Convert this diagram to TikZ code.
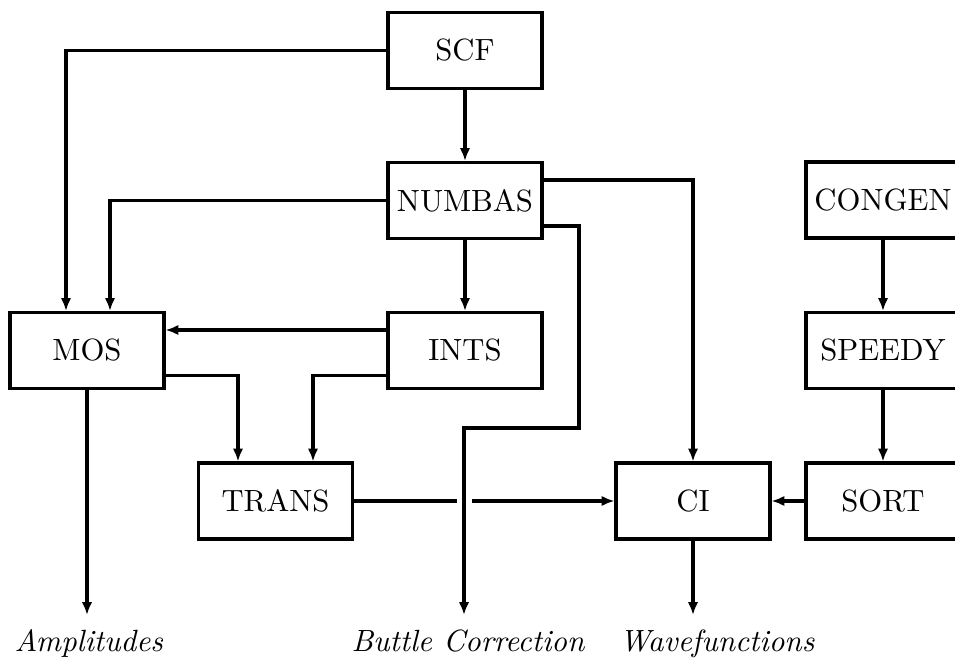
\documentclass[tikz,border=0pt]{standalone}
\usetikzlibrary{arrows.meta}
\def\pxu{0.3257pt}
\begin{document}
\begin{tikzpicture}[x=\pxu,y=-\pxu,
  box/.style={draw,line width=1pt,minimum width=154*\pxu,minimum height=76*\pxu,inner sep=0pt},
  wire/.style={line width=1pt},
  arr/.style={wire,-{Latex[length=4.2pt,width=3.4pt]}},
  lab/.style={font=\itshape,anchor=base west,inner sep=0pt}]
\useasboundingbox (0,0) rectangle (955,661);

\node[box] (SCF)    at (465,50.5)  {SCF};
\node[box] (NUMBAS) at (465,200.5) {NUMBAS};
\node[box] (INTS)   at (465,350.5) {INTS};
\node[box] (MOS)    at (87,350.5)  {MOS};
\node[box] (TRANS)  at (275.5,501) {TRANS};
\node[box] (CI)     at (693,501)   {CI};
\node[box] (CONGEN) at (883,200)   {CONGEN};
\node[box] (SPEEDY) at (883,350.5) {SPEEDY};
\node[box] (SORT)   at (883,501)   {SORT};

\coordinate (bA) at (579,428);
\coordinate (bEnd) at (464,615);
\coordinate (ampEnd) at (87,615);
\coordinate (wfEnd) at (693,615);
\coordinate (gapL) at (457,501);
\coordinate (gapR) at (472,501);

\draw[arr] (SCF.west) -| ([xshift=-21*\pxu]MOS.north);
\draw[arr] (NUMBAS.west) -| ([xshift=23*\pxu]MOS.north);
\draw[arr] (SCF.south) -- (NUMBAS.north);
\draw[arr] (NUMBAS.south) -- (INTS.north);
\draw[arr] ([yshift=20.5*\pxu]NUMBAS.east) -| (CI.north);
\draw[arr] ([yshift=-25.5*\pxu]NUMBAS.east) -| (bA) -| (bEnd);
\draw[arr] ([yshift=20.5*\pxu]INTS.west) -- ([yshift=20.5*\pxu]MOS.east);
\draw[arr] ([yshift=-25*\pxu]INTS.west) -| ([xshift=37.5*\pxu]TRANS.north);
\draw[arr] ([yshift=-25*\pxu]MOS.east) -| ([xshift=-37.5*\pxu]TRANS.north);
\draw[arr] (MOS.south) -- (ampEnd);
\draw[wire] (TRANS.east) -- (gapL);
\draw[arr] (gapR) -- (CI.west);
\draw[arr] (SORT.west) -- (CI.east);
\draw[arr] (CONGEN.south) -- (SPEEDY.north);
\draw[arr] (SPEEDY.south) -- (SORT.north);
\draw[arr] (CI.south) -- (wfEnd);

\node[lab] (amp) at (14,652) {Amplitudes};
\node[lab] (buttle) at (351,652) {Buttle Correction};
\node[lab] (wf) at (619,652) {Wavefunctions};
\end{tikzpicture}
\end{document}
